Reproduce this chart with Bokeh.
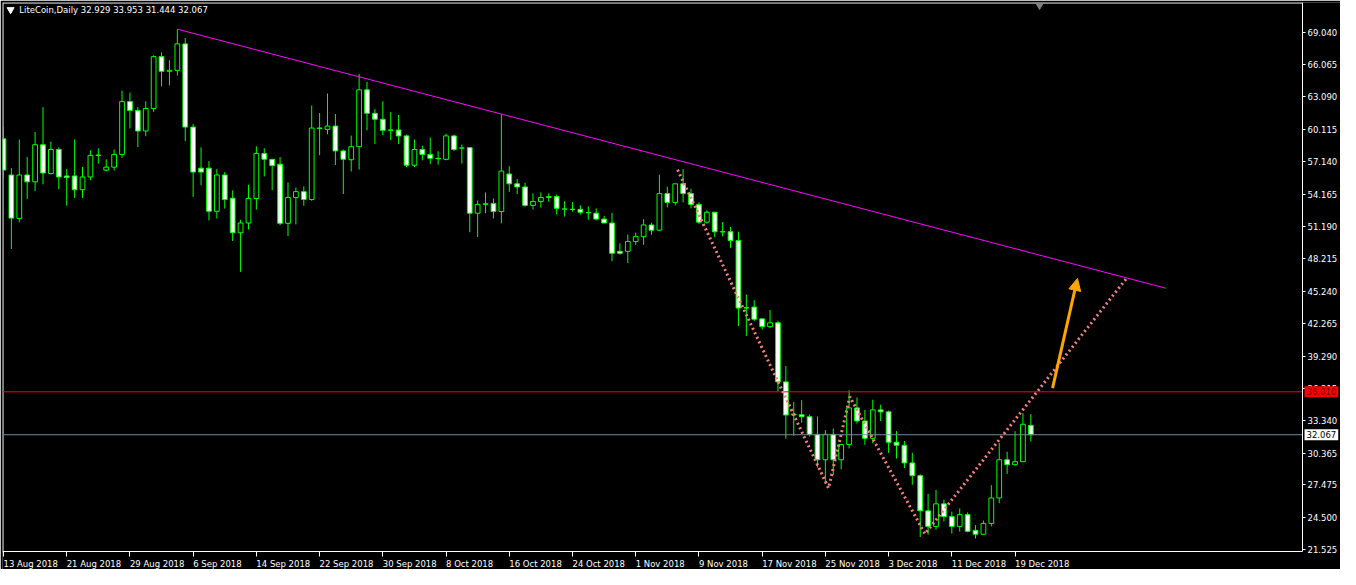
from bokeh.plotting import figure
from bokeh.models import Range1d, FixedTicker, Label, Arrow, NormalHead, ColumnDataSource, NumeralTickFormatter
from bokeh.embed import file_html
from bokeh.resources import INLINE

# ---- data (LiteCoin daily, bar index 0 = 13 Aug 2018) ----
opens = [59.24, 55.92, 51.93, 55.92, 55.29, 58.70, 56.06, 58.26, 55.83, 55.83,
         54.57, 55.74, 57.72, 56.37, 56.64, 57.81, 62.66, 61.85, 59.96, 62.03,
         66.79, 65.44, 65.53, 67.96, 60.32, 56.55, 56.55, 52.59, 55.92, 53.79,
         50.62, 51.51, 53.76, 57.90, 57.36, 56.91, 51.48, 53.85, 54.39, 53.67,
         60.23, 60.11, 60.41, 58.13, 57.32, 58.52, 63.74, 61.58, 61.04, 60.02,
         60.05, 59.51, 56.82, 58.26, 57.81, 57.45, 57.36, 59.51, 58.40, 58.43,
         52.41, 53.22, 53.31, 52.56, 56.01, 55.11, 54.82, 53.13, 53.49, 53.85,
         53.94, 52.80, 52.77, 52.77, 52.47, 52.41, 51.87, 51.51, 48.91, 48.91,
         49.81, 50.26, 51.33, 50.85, 54.21, 53.40, 55.11, 54.21, 53.22, 51.59,
         52.50, 50.71, 50.71, 49.90, 43.70, 43.79, 42.71, 41.99, 42.35, 36.92,
         33.88, 33.90, 33.72, 32.10, 29.77, 32.10, 29.77, 31.17, 34.53, 33.33,
         31.74, 34.35, 34.17, 31.38, 31.10, 29.48, 28.31, 25.08, 23.65, 25.72,
         24.55, 23.65, 24.73, 23.29, 22.93, 23.92, 26.26, 29.77, 29.32, 29.59,
         32.929]
highs = [60.35, 56.55, 59.18, 57.56, 59.87, 62.15, 58.97, 58.46, 56.46, 59.18,
         56.66, 58.19, 58.37, 57.36, 58.26, 63.67, 63.49, 62.15, 62.69, 66.91,
         67.18, 66.46, 69.31, 68.50, 60.62, 58.46, 57.20, 56.48, 56.19, 54.51,
         51.81, 55.02, 58.55, 58.37, 57.36, 57.56, 55.23, 54.77, 54.87, 62.30,
         61.61, 63.40, 61.52, 58.26, 59.54, 65.20, 64.48, 61.97, 62.69, 61.70,
         61.43, 59.63, 59.18, 58.61, 59.36, 58.10, 59.72, 59.63, 58.73, 58.43,
         53.58, 54.32, 53.76, 61.49, 56.73, 55.56, 55.20, 54.24, 54.32, 54.24,
         54.12, 53.52, 53.43, 53.13, 53.04, 52.86, 52.17, 52.44, 49.65, 50.46,
         50.62, 51.87, 51.54, 55.95, 54.84, 55.11, 56.46, 54.66, 53.40, 52.68,
         52.50, 51.60, 51.16, 50.71, 44.95, 44.42, 42.71, 43.52, 42.54, 38.39,
         35.08, 35.25, 33.93, 33.75, 32.49, 32.64, 31.23, 36.15, 35.48, 34.35,
         35.28, 34.83, 34.29, 32.40, 31.50, 30.40, 28.44, 26.65, 27.01, 26.11,
         25.00, 25.30, 24.94, 23.77, 24.19, 27.43, 31.32, 30.51, 32.40, 34.05,
         33.953]
lows = [55.61, 49.12, 51.57, 53.73, 54.44, 55.07, 55.97, 54.62, 53.10, 53.82,
        53.82, 55.43, 56.96, 56.24, 56.33, 57.50, 60.20, 58.49, 59.48, 61.72,
        64.06, 64.15, 65.05, 59.03, 53.91, 54.98, 51.75, 51.93, 52.83, 49.86,
        47.02, 50.91, 52.74, 55.79, 54.53, 51.30, 50.31, 51.39, 53.10, 53.55,
        57.74, 59.66, 56.84, 54.17, 56.24, 56.42, 60.02, 58.76, 59.57, 59.12,
        58.76, 56.64, 56.64, 57.27, 56.91, 56.87, 57.27, 58.13, 56.96, 50.67,
        50.22, 52.41, 51.93, 51.48, 54.36, 54.17, 53.01, 52.74, 52.92, 53.46,
        52.29, 52.11, 52.56, 52.29, 51.81, 51.75, 51.48, 48.01, 48.60, 47.83,
        49.50, 49.50, 50.44, 50.76, 52.95, 53.13, 53.40, 52.86, 51.42, 51.45,
        50.22, 50.28, 49.23, 42.04, 41.14, 42.49, 41.72, 41.86, 36.08, 31.71,
        31.98, 33.16, 31.91, 29.05, 27.55, 28.36, 28.89, 30.81, 33.09, 31.14,
        31.29, 33.33, 30.40, 29.88, 29.01, 27.48, 22.67, 22.90, 23.35, 24.10,
        22.99, 23.17, 23.11, 22.54, 22.87, 23.65, 25.78, 28.47, 29.23, 29.55,
        31.444]
closes = [56.37, 51.96, 55.92, 55.29, 58.70, 56.10, 58.26, 55.74, 55.70, 54.57,
          55.74, 57.72, 57.75, 56.64, 57.81, 62.66, 61.85, 59.96, 62.03, 66.79,
          65.44, 65.53, 67.96, 60.32, 56.19, 56.19, 52.59, 55.92, 53.67, 50.62,
          51.51, 53.76, 57.90, 57.36, 56.78, 51.48, 53.85, 54.39, 53.67, 60.23,
          60.20, 60.41, 58.13, 57.36, 58.52, 63.74, 61.58, 61.04, 60.02, 60.06,
          59.51, 56.82, 58.26, 57.81, 57.45, 57.41, 59.51, 58.26, 58.39, 52.41,
          53.22, 53.28, 52.56, 56.28, 55.11, 54.82, 53.13, 53.49, 53.85, 53.94,
          52.86, 52.79, 52.76, 52.50, 52.46, 51.87, 51.51, 48.73, 48.73, 49.81,
          50.26, 51.33, 50.85, 54.21, 53.40, 55.11, 54.21, 53.22, 51.59, 52.50,
          50.71, 50.70, 49.90, 43.70, 43.75, 42.67, 41.99, 42.35, 36.92, 33.88,
          33.97, 33.72, 32.10, 29.77, 32.10, 29.77, 31.17, 34.53, 33.33, 31.74,
          34.35, 34.17, 31.38, 31.10, 29.48, 28.31, 25.08, 23.65, 25.72, 24.55,
          23.65, 24.73, 23.20, 22.93, 23.92, 26.26, 29.77, 29.32, 29.59, 33.03,
          32.067]

date_labels = ["13 Aug 2018", "21 Aug 2018", "29 Aug 2018", "6 Sep 2018", "14 Sep 2018",
               "22 Sep 2018", "30 Sep 2018", "8 Oct 2018", "16 Oct 2018", "24 Oct 2018",
               "1 Nov 2018", "9 Nov 2018", "17 Nov 2018", "25 Nov 2018", "3 Dec 2018",
               "11 Dec 2018", "19 Dec 2018"]
date_label_bars = [0, 8, 16, 24, 32, 40, 48, 56, 64, 72, 80, 88, 96, 104, 112, 120, 128]
price_ticks = [21.525, 24.500, 27.475, 30.365, 33.340, 36.315, 39.290, 42.265, 45.240,
               48.215, 51.190, 54.165, 57.140, 60.115, 63.090, 66.065, 69.040]

# drawn objects (bar index, price)
trend_x = [22, 147.1]
trend_y = [69.31, 45.52]
zigzag_x = [85.3, 104.4, 107.1, 116.6, 142.1]
zigzag_y = [56.40, 27.16, 35.55, 22.96, 46.42]
arrow_from = (132.75, 36.35)
arrow_to = (135.9, 46.42)
level_price = 36.010
last_price = 32.067
title_text = "LiteCoin,Daily  32.929 33.953 31.444 32.067"

FONT = "DejaVu Sans"
FS_PX = 8.5
FS = "8.5px"
TOTAL_W, SCALE_W = 1338, 38          # frame width, width of the price-scale strip
TOTAL_H, TIME_H = 567, 18            # frame height, height of the time-scale strip
X0, XB = -0.125, 164.375            # visible bar range of the chart area
Y0, Y1 = 21.345, 71.76              # visible price range of the chart area
px_per_bar = (TOTAL_W - SCALE_W) / (XB - X0)
X1 = X0 + TOTAL_W / px_per_bar
px_per_unit = (TOTAL_H - TIME_H) / (Y1 - Y0)
YL = Y0 - TIME_H / px_per_unit

# approximate DejaVu Sans advance widths (em) to left-align date labels at their ticks
ADV = {"0": .636, "1": .636, "2": .636, "3": .636, "4": .636, "5": .636, "6": .636,
       "7": .636, "8": .636, "9": .636, " ": .318, "A": .684, "u": .634, "g": .635,
       "S": .635, "e": .615, "p": .635, "O": .787, "c": .550, "t": .392, "N": .748,
       "o": .612, "v": .592, "D": .770}
label_centres = [b + sum(ADV.get(ch, .6) for ch in t) * FS_PX / 2 / px_per_bar
                 for b, t in zip(date_label_bars, date_labels)]

n = len(opens)
idx = list(range(n))
bull = [c >= o for o, c in zip(opens, closes)]
src = ColumnDataSource(dict(
    x=idx, high=highs, low=lows,
    top=[max(o, c) for o, c in zip(opens, closes)],
    bottom=[min(o, c) for o, c in zip(opens, closes)],
    fill=["black" if b else "white" for b in bull],
))

p = figure(frame_width=TOTAL_W, frame_height=TOTAL_H, output_backend="svg", toolbar_location=None,
           x_range=Range1d(X0, X1), y_range=Range1d(YL, Y1),
           y_axis_location="right", x_axis_location="below",
           min_border_left=2, min_border_top=2, min_border_right=0, min_border_bottom=0,
           background_fill_color="black", border_fill_color="black",
           outline_line_color=None)
p.grid.visible = False

xa = p.xaxis[0]
xa.fixed_location = Y0
xa.bounds = (X0, XB)
xa.ticker = FixedTicker(ticks=label_centres, minor_ticks=date_label_bars)
xa.major_label_overrides = {c: t for c, t in zip(label_centres, date_labels)}
xa.major_tick_line_color = None
xa.minor_tick_line_color = "white"
xa.minor_tick_in = 0
xa.minor_tick_out = 5
xa.major_tick_out = 5
ya = p.yaxis[0]
ya.fixed_location = XB
ya.bounds = (Y0, Y1)
ya.ticker = FixedTicker(ticks=price_ticks)
ya.formatter = NumeralTickFormatter(format="0.000")
ya.major_tick_line_color = "white"
ya.minor_tick_line_color = None
ya.major_tick_out = 3
for ax in (xa, ya):
    ax.axis_line_color = "white"
    ax.major_tick_in = 0
    ax.major_label_text_color = "white"
    ax.major_label_text_font = FONT
    ax.major_label_text_font_size = FS
    ax.major_label_standoff = 2

# frame border (left and top edges; right = price axis, bottom = time axis)
half_x = 0.5 / px_per_bar
half_y = 0.5 / px_per_unit
p.line([X0 + half_x, X0 + half_x, XB], [Y0, Y1 - half_y, Y1 - half_y],
       line_color="white", line_width=1)

# candles
p.segment(x0="x", y0="high", x1="x", y1="low", source=src, line_color="#00FF00", line_width=1)
p.vbar(x="x", top="top", bottom="bottom", width=0.6, source=src,
       fill_color="fill", line_color="#00FF00", line_width=1)

# horizontal levels
p.segment(x0=[X0], y0=[level_price], x1=[XB], y1=[level_price], line_color="#FF0000", line_width=1)
p.segment(x0=[X0], y0=[last_price], x1=[XB], y1=[last_price], line_color="#778899", line_width=1)

# trend line, zigzag, arrow
p.line(trend_x, trend_y, line_color="#FF00FF", line_width=1)
p.line(zigzag_x, zigzag_y, line_color="#F08080", line_width=3, line_dash="2 3")
p.add_layout(Arrow(end=NormalHead(fill_color="#FFA500", line_color="#FFA500", size=12),
                   x_start=arrow_from[0], y_start=arrow_from[1],
                   x_end=arrow_to[0], y_end=arrow_to[1],
                   line_color="#FFA500", line_width=3))

# title inside chart
p.scatter([0.9], [71.1], marker="inverted_triangle", size=7, color="white")
p.add_layout(Label(x=2.0, y=71.1, text=title_text, text_color="white",
                   text_font=FONT, text_font_size=FS, text_baseline="middle"))
# shift marker
p.scatter([131.1], [71.7], marker="inverted_triangle", size=11, color="#808080")

# price tags on the scale
p.add_layout(Label(x=XB, y=level_price, text="36.010", x_offset=2,
                   text_color="#800000", text_font=FONT, text_font_size=FS,
                   text_baseline="middle", text_align="left",
                   background_fill_color="#FF0000", padding=2))
p.add_layout(Label(x=XB, y=last_price, text="32.067", x_offset=2,
                   text_color="black", text_font=FONT, text_font_size=FS,
                   text_baseline="middle", text_align="left",
                   background_fill_color="white", padding=2))

open("out.html", "w").write(file_html(p, INLINE))
